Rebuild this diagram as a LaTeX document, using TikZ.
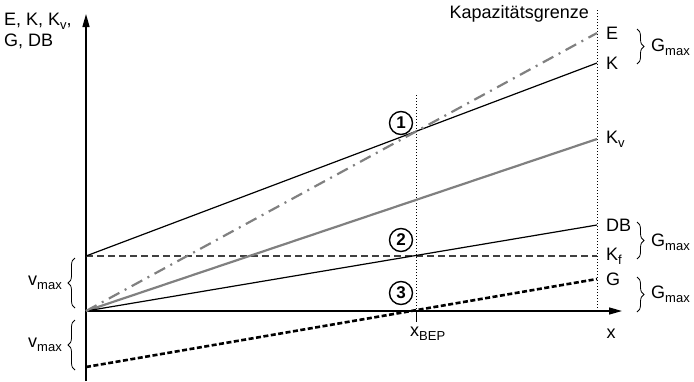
\documentclass[tikz,border=0pt]{standalone}
\usepackage{fontspec}
\setmainfont{Liberation Sans}
\usetikzlibrary{arrows.meta,decorations.pathreplacing}
\newcommand\lsub[1]{\raisebox{-0.45ex}{\fontsize{13}{13}\selectfont #1}}
\begin{document}
\begin{tikzpicture}[x=1pt,y=-1pt,
  txt/.style={font=\fontsize{18}{21}\selectfont, inner sep=0pt},
  axis/.style={line width=1.4pt,-{Triangle[length=13pt,width=7pt]}},
  thinline/.style={line width=1.2pt},
  grayline/.style={line width=2.2pt, color=black!50},
  erloes/.style={line width=2.2pt, color=black!50, dash pattern=on 12pt off 6pt on 2pt off 6pt},
  fixline/.style={line width=1.3pt, color=black!75, dash pattern=on 7pt off 4pt},
  gewinn/.style={line width=2.6pt, dash pattern=on 5pt off 2.5pt},
  guide/.style={line width=1pt, dotted},
  bracer/.style={decorate, decoration={brace, amplitude=7pt}, line width=0.8pt},
  numcirc/.style={circle, draw, line width=1.4pt, minimum size=23pt, inner sep=0pt, font=\fontsize{17}{17}\selectfont\bfseries},
]
\useasboundingbox (0,0) rectangle (694,381);
% coordinates
\coordinate (O) at (86,311);
\coordinate (ytop) at (86,14);
\coordinate (ybot) at (86,381);
\coordinate (xend) at (622,311);
\coordinate (K0) at (86,256);
\coordinate (G0) at (86,367);
\coordinate (Eend) at (597,33);
\coordinate (Kend) at (597,63);
\coordinate (KVend) at (597,139);
\coordinate (DBend) at (597,225);
\coordinate (KFend) at (597,256);
\coordinate (Gend) at (597,279);
\coordinate (captop) at (597,10);
\coordinate (capbot) at (597,311);
\coordinate (beptop) at (416,95);
\coordinate (bepbot) at (416,322);
% guides
\draw[guide] (captop) -- (capbot);
\draw[guide] (beptop) -- (O -| beptop);
\draw[line width=1pt] (O -| beptop) -- (bepbot);
% axes
\draw[axis] (ybot) -- (ytop);
\draw[axis] (O) -- (xend);
% lines
\draw[fixline] (K0) -- (KFend);
\draw[thinline] (K0) -- (Kend);
\draw[grayline] (O) -- (KVend);
\draw[thinline] (O) -- (DBend);
\draw[erloes] (O) -- (Eend);
\draw[gewinn] (G0) -- (Gend);
% labels right
\node[txt, anchor=west] (lE) at (606,33) {E};
\node[txt, anchor=west] (lK) at (606,63) {K};
\node[txt, anchor=west] (lKv) at (606,139) {K\lsub{v}};
\node[txt, anchor=west] (lDB) at (606,225) {DB};
\node[txt, anchor=west] (lKf) at (606,256) {K\lsub{f}};
\node[txt, anchor=west] (lG) at (606,279) {G};
\node[txt] (lx) at (611,334) {x};
\node[txt, anchor=west] (lbep) at (410,334) {x\lsub{BEP}};
\node[txt, anchor=east] (lcap) at (589,14) {Kapazitätsgrenze};
\node[txt, anchor=north west, align=left] (lY) at (4,13) {E, K, K\lsub{v},\\G, DB};
% braces right
\draw[bracer] (637,29) -- (637,64);
\draw[bracer] (637,222) -- (637,259);
\draw[bracer] (637,277) -- (637,312);
\node[txt, anchor=west] (gm1) at (651,47) {G\lsub{max}};
\node[txt, anchor=west] (gm2) at (651,242) {G\lsub{max}};
\node[txt, anchor=west] (gm3) at (651,294) {G\lsub{max}};
% braces left
\draw[bracer] (75,308) -- (75,258);
\draw[bracer] (75,370) -- (75,320);
\node[txt, anchor=east] (vm1) at (62,283) {v\lsub{max}};
\node[txt, anchor=east] (vm2) at (62,345) {v\lsub{max}};
% circled numbers
\node[numcirc] (c1) at (401,123) {1};
\node[numcirc] (c2) at (401,240) {2};
\node[numcirc] (c3) at (401,293) {3};
\end{tikzpicture}
\end{document}
